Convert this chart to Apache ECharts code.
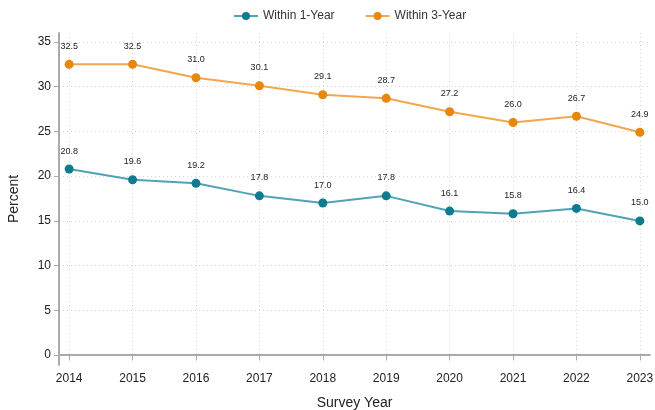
<!DOCTYPE html>
<html>
<head>
    <meta charset="utf-8"/>
    <title>Survey Year</title>
    <script src="https://cdn.jsdelivr.net/npm/echarts@6/dist/echarts.min.js"></script>
</head>
<body style="margin:0">
<div id="main" style="width:655px;height:410px;"></div>
<script>
    // data
    var years = [2014, 2015, 2016, 2017, 2018, 2019, 2020, 2021, 2022, 2023];
    var within1 = [20.8, 19.6, 19.2, 17.8, 17.0, 17.8, 16.1, 15.8, 16.4, 15.0];
    var within3 = [32.5, 32.5, 31.0, 30.1, 29.1, 28.7, 27.2, 26.0, 26.7, 24.9];
    var yTicks = [0, 5, 10, 15, 20, 25, 30, 35];

    function pairs(vals) {
        return years.map(function (y, i) { return [y, vals[i]]; });
    }

    var myChart = echarts.init(document.getElementById('main'));

    function mkSeries(name, vals, lineColor, dotColor) {
        return {
            name: name,
            type: 'line',
            data: pairs(vals),
            symbol: 'circle',
            symbolSize: 9,
            itemStyle: {color: dotColor},
            lineStyle: {color: lineColor, width: 2},
            label: {
                show: true,
                position: 'top',
                distance: 9,
                fontSize: 9,
                color: '#222',
                fontFamily: 'Liberation Sans',
                formatter: function (p) { return p.value[1].toFixed(1); }
            }
        };
    }

    var option = {
        animation: false,
        textStyle: {fontFamily: 'Liberation Sans'},
        legend: {
            top: 5,
            left: 228,
            itemGap: 30,
            itemWidth: 24,
            itemHeight: 10,
            textStyle: {fontSize: 12, color: '#333'},
            data: ['Within 1-Year', 'Within 3-Year']
        },
        grid: {left: 59, right: 5, top: 33, bottom: 45, outerBoundsMode: 'none'},
        xAxis: {
            type: 'value',
            min: 2013.84,
            max: 2023.16,
            name: 'Survey Year',
            nameLocation: 'middle',
            nameGap: 31,
            nameTextStyle: {fontSize: 14, color: '#222'},
            axisLine: {lineStyle: {color: '#aaa', width: 2}},
            axisTick: {customValues: years, length: 5, lineStyle: {color: '#aaa'}},
            axisLabel: {customValues: years, fontSize: 12, color: '#222', margin: 8,
                formatter: function (v) { return String(v); }},
            splitLine: {show: true, lineStyle: {color: '#d4d4d4', type: [1, 3]}}
        },
        yAxis: {
            type: 'value',
            min: -1.1,
            max: 36,
            name: 'Percent',
            nameLocation: 'middle',
            nameGap: 38,
            nameTextStyle: {fontSize: 14, color: '#222'},
            axisLine: {show: true, lineStyle: {color: '#aaa', width: 2}},
            axisTick: {show: true, customValues: yTicks, length: 5, lineStyle: {color: '#aaa'}},
            axisLabel: {customValues: yTicks, fontSize: 12, color: '#222', margin: 8},
            splitLine: {show: true, lineStyle: {color: '#d4d4d4', type: [1, 3]}}
        },
        series: [
            mkSeries('Within 1-Year', within1, '#4fa3b5', '#0f7b8e'),
            mkSeries('Within 3-Year', within3, '#f2a74e', '#e9860c')
        ]
    };

    myChart.setOption(option);
</script>
</body>
</html>
